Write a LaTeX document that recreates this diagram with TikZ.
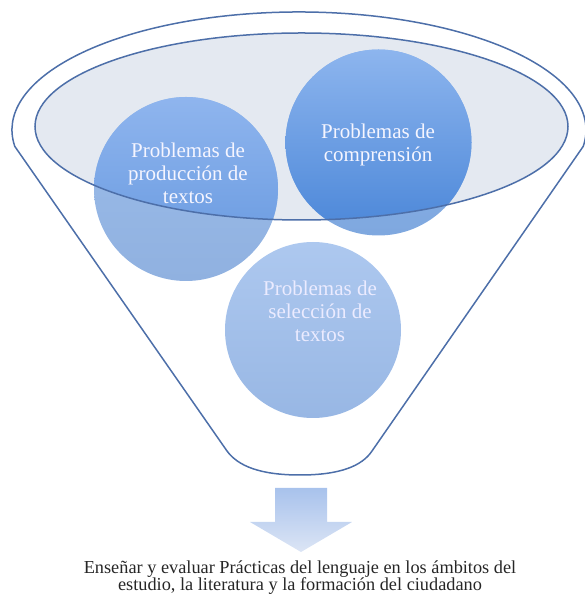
\documentclass[tikz,border=0pt]{standalone}
\usepackage{fontspec}
\setmainfont{Liberation Serif}
\definecolor{lineblue}{HTML}{4D6FA9}
\definecolor{ellfill}{HTML}{E4E9F1}
\definecolor{selTop}{HTML}{ADC8EF}
\definecolor{selBot}{HTML}{98B7E4}
\definecolor{prodTop}{HTML}{9CBDEA}
\definecolor{prodBot}{HTML}{90B1E0}
\definecolor{prodInTop}{HTML}{8FB5EE}
\definecolor{prodInBot}{HTML}{6396DE}
\definecolor{compTop}{HTML}{8DB4EC}
\definecolor{compBot}{HTML}{7FA8DF}
\definecolor{compInTop}{HTML}{8DB5EE}
\definecolor{compInBot}{HTML}{4A86D8}
\definecolor{arrTop}{HTML}{A8C2EC}
\definecolor{arrBot}{HTML}{DCE5F5}
\tikzset{
  outline/.style={draw=lineblue, line width=1.5pt},
  circtext/.style={text=white!96!blue, align=center, font=\fontsize{21}{23}\selectfont},
  goaltext/.style={text=black!85, align=center, font=\fontsize{18.3}{17}\selectfont}
}
\begin{document}
\begin{tikzpicture}[x=1pt,y=1pt]
\useasboundingbox (0,0) rectangle (585,594);
% inner ellipse fill
\fill[ellfill] (301.5,467.5) ellipse [x radius=266.5, y radius=93.5];
% bottom circle
\shade[top color=selTop, bottom color=selBot] (313,264) circle (88);
% left circle
\shade[top color=prodTop, bottom color=prodBot] (186,405) circle (92);
\begin{scope}
  \clip (301.5,467.5) ellipse [x radius=266.5, y radius=93.5];
  \shade[top color=prodInTop, bottom color=prodInBot] (186,405) circle (92);
\end{scope}
% right circle
\shade[top color=compTop, bottom color=compBot] (378.5,451.5) circle (93);
\begin{scope}
  \clip (301.5,467.5) ellipse [x radius=266.5, y radius=93.5];
  \shade[top color=compInTop, bottom color=compInBot] (378.5,451.5) circle (93);
\end{scope}
% inner ellipse outline
\draw[outline] (301.5,467.5) ellipse [x radius=266.5, y radius=93.5];
% funnel outline
\draw[outline] (14.8,447.6) arc[start angle=188, end angle=-8, x radius=287, y radius=118]
  -- (372,143) .. controls (362,128) and (340,119) .. (300,119)
  .. controls (260,119) and (238,128) .. (227,143) -- cycle;
% texts
\node[circtext] (prod) at (188,421) {Problemas de\\producción de\\textos};
\node[circtext] (comp) at (378,449) {Problemas de\\comprensión};
\node[circtext, text=white!92!blue] (sel) at (320,283) {Problemas de\\selección de\\textos};
% arrow
\shade[top color=arrTop, bottom color=arrBot]
  (275,106) -- (327,106) -- (327,72) -- (352,72) -- (301,42) -- (250,72) -- (275,72) -- cycle;
\node[goaltext] (goal) at (300,16) {Enseñar y evaluar Prácticas del lenguaje en los ámbitos del\\estudio, la literatura y la formación del ciudadano};
\end{tikzpicture}
\end{document}
